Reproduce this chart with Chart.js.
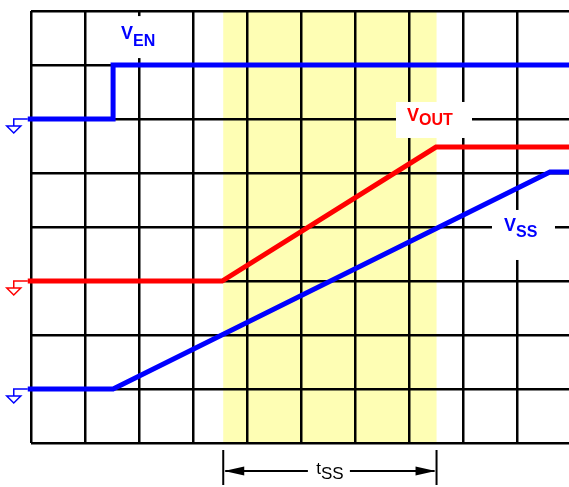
<!DOCTYPE html>
<html>
<head>
<meta charset="utf-8">
<script src="https://cdn.jsdelivr.net/npm/chart.js@4.4.1/dist/chart.umd.min.js"></script>
<style>
  html, body { margin: 0; padding: 0; background: #fff; }
  #wrap { width: 569px; height: 487px; }
</style>
</head>
<body>
<div id="wrap"><canvas id="scope"></canvas></div>
<script>
// traces, in screen divisions (x from left edge, y up from bottom edge)
var enX  = [-0.06, 1.52, 1.52, 10.1];
var enY  = [6, 6, 7, 7];
var outX = [-0.06, 3.54, 7.5, 10.1];
var outY = [3, 3, 5.48, 5.48];
var ssX  = [-0.06, 1.52, 9.61, 10.1];
var ssY  = [1, 1, 5.02, 5.02];

// soft-start window (shaded band + tSS dimension)
var tssStart = 3.56;
var tssEnd = 7.51;

// grid divisions
var xDivs = [0, 1, 2, 3, 4, 5, 6, 7, 8, 9];
var yDivs = [0, 1, 2, 3, 4, 5, 6, 7, 8];

var BLUE = '#0000ff';
var RED = '#ff0000';

function pts(xs, ys) {
    return xs.map(function(x, i) { return { x: x, y: ys[i] }; });
}

// trace labels: anchor in divisions, box = [dx, dy, w, h] in px around the anchor
var labels = [
    { main: 'V', sub: 'EN',  x: 1.667, y: 7.48,  subDy: 7,  color: BLUE, box: [-11, -23, 55, 42] },
    { main: 'V', sub: 'OUT', x: 6.963, y: 5.954, subDy: 4,  color: RED,  box: [-11, -19.5, 76, 36] },
    { main: 'V', sub: 'SS',  x: 8.759, y: 3.917, subDy: 6,  color: BLUE, box: [-12, -21.5, 63, 50] }
];

var scopeDecor = {
    id: 'scopeDecor',
    beforeDraw: function(chart) {
        var c = chart.ctx, a = chart.chartArea;
        var xs = chart.scales.x;
        c.save();
        c.fillStyle = '#fff';
        c.fillRect(0, 0, chart.width, chart.height);
        var x1 = xs.getPixelForValue(tssStart), x2 = xs.getPixelForValue(tssEnd);
        c.fillStyle = '#fefeb4';
        c.fillRect(x1, a.top, x2 - x1, a.bottom - a.top);
        c.restore();
    },
    afterDraw: function(chart) {
        var c = chart.ctx, a = chart.chartArea;
        var xs = chart.scales.x, ys = chart.scales.y;
        c.save();

        // ground symbols at the start of each trace
        chart.data.datasets.forEach(function(ds) {
            var p = ds.data[0];
            var x0 = xs.getPixelForValue(p.x), y0 = ys.getPixelForValue(p.y);
            c.strokeStyle = ds.borderColor;
            c.lineWidth = 1.5;
            c.beginPath();
            c.moveTo(x0, y0);
            c.lineTo(x0 - 14, y0);
            c.lineTo(x0 - 14, y0 + 7);
            c.moveTo(x0 - 21, y0 + 7);
            c.lineTo(x0 - 7, y0 + 7);
            c.lineTo(x0 - 14, y0 + 14);
            c.closePath();
            c.stroke();
        });

        // trace names on white boxes
        labels.forEach(function(l) {
            var bx = xs.getPixelForValue(l.x), by = ys.getPixelForValue(l.y);
            c.fillStyle = '#fff';
            c.fillRect(bx + l.box[0], by + l.box[1], l.box[2], l.box[3]);
            c.fillStyle = l.color;
            c.textBaseline = 'alphabetic';
            c.textAlign = 'left';
            c.font = 'bold 18px "Liberation Sans", Arial, sans-serif';
            c.fillText(l.main, bx, by);
            var w = c.measureText(l.main).width;
            c.font = 'bold 16px "Liberation Sans", Arial, sans-serif';
            c.fillText(l.sub, bx + w, by + l.subDy);
        });

        // tSS dimension under the plot
        var x1 = xs.getPixelForValue(tssStart), x2 = xs.getPixelForValue(tssEnd);
        var yA = a.bottom + 28;
        var mid = (x1 + x2) / 2;
        c.strokeStyle = '#000';
        c.fillStyle = '#000';
        c.lineWidth = 2;
        c.beginPath();
        c.moveTo(x1, a.bottom + 7); c.lineTo(x1, a.bottom + 42);
        c.moveTo(x2, a.bottom + 7); c.lineTo(x2, a.bottom + 42);
        c.moveTo(x1 + 2, yA); c.lineTo(mid - 22, yA);
        c.moveTo(mid + 20, yA); c.lineTo(x2 - 2, yA);
        c.stroke();
        c.beginPath();
        c.moveTo(x1 + 1, yA); c.lineTo(x1 + 21, yA - 4.5); c.lineTo(x1 + 21, yA + 4.5); c.closePath();
        c.moveTo(x2 - 1, yA); c.lineTo(x2 - 21, yA - 4.5); c.lineTo(x2 - 21, yA + 4.5); c.closePath();
        c.fill();

        c.font = '17px "Liberation Sans", Arial, sans-serif';
        var tw = c.measureText('t').width;
        var sw = c.measureText('SS').width;
        var tx = mid - (tw + sw) / 2;
        c.fillText('t', tx, yA + 3);
        c.fillText('SS', tx + tw, yA + 8);
        c.restore();
    }
};

var gridStyle = { color: '#000', lineWidth: 2.5, drawTicks: false };

var ctx = document.getElementById('scope').getContext('2d');
var scopeChart = new Chart(ctx, {
    type: 'line',
    data: {
        datasets: [
            { label: 'VEN',  data: pts(enX, enY),   borderColor: BLUE },
            { label: 'VOUT', data: pts(outX, outY), borderColor: RED },
            { label: 'VSS',  data: pts(ssX, ssY),   borderColor: BLUE }
        ]
    },
    options: {
        responsive: true,
        maintainAspectRatio: false,
        animation: false,
        layout: { padding: { left: 31, top: 11, right: 0, bottom: 44 } },
        elements: {
            line: { borderWidth: 5, tension: 0, fill: false, borderJoinStyle: 'miter', borderCapStyle: 'butt' },
            point: { radius: 0, hoverRadius: 0 }
        },
        datasets: { line: { clip: false } },
        scales: {
            x: {
                type: 'linear',
                min: 0,
                max: 538 / 54,
                ticks: { display: false },
                grid: gridStyle,
                border: { display: false },
                afterBuildTicks: function(s) { s.ticks = xDivs.map(function(v) { return { value: v }; }); }
            },
            y: {
                type: 'linear',
                min: 0,
                max: 8,
                ticks: { display: false },
                grid: gridStyle,
                border: { display: false },
                afterBuildTicks: function(s) { s.ticks = yDivs.map(function(v) { return { value: v }; }); }
            }
        },
        plugins: {
            legend: { display: false },
            tooltip: { enabled: false }
        }
    },
    plugins: [scopeDecor]
});
</script>
</body>
</html>
